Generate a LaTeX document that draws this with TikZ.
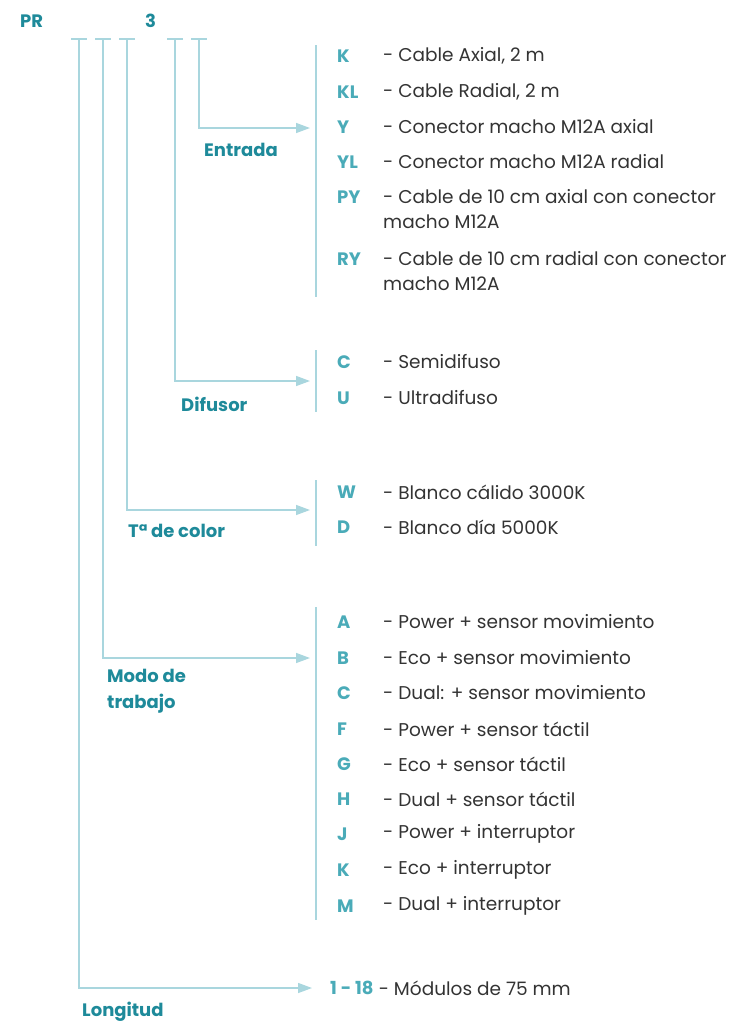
\documentclass[tikz,border=0pt]{standalone}
\usepackage{fontspec}
\setmainfont{Poppins}
\usetikzlibrary{arrows.meta}
\definecolor{teal1}{HTML}{1E8A9A}
\definecolor{teal2}{HTML}{4AABB8}
\definecolor{linec}{HTML}{A9D6DE}
\definecolor{txt}{HTML}{333333}
\tikzset{
  lbl/.style={anchor=west,inner sep=0pt,text=teal1,font=\fontsize{18}{26}\selectfont\bfseries,align=left},
  code/.style={anchor=west,inner sep=0pt,text=teal2,font=\fontsize{18}{25}\selectfont\bfseries},
  desc/.style={anchor=west,inner sep=0pt,text=txt,font=\fontsize{18.5}{25}\selectfont,align=left},
  conn/.style={draw=linec,line width=1.4pt},
  arr/.style={conn,-{Triangle[length=14pt,width=10pt]}},
  bar/.style={draw=linec,line width=1.4pt},
}
\begin{document}
\begin{tikzpicture}[x=1pt,y=-1pt]
\useasboundingbox (0,0) rectangle (731,1023);
% header
\node[lbl] (pr) at (20,21) {PR};
\node[lbl] (three) at (145,21) {3};
% ticks
\foreach \n/\x in {t1/79,t2/103,t3/127,t4/175,t5/199}{
  \coordinate (\n) at (\x,39);
  \draw[conn] (\x-8,39) -- (\x+8,39);
}
% arrow targets
\coordinate (e1) at (310,128);
\coordinate (e2) at (310,381);
\coordinate (e3) at (310,510);
\coordinate (e4) at (310,658);
\coordinate (e5) at (312,988);
\draw[arr] (t5) |- (e1);
\draw[arr] (t4) |- (e2);
\draw[arr] (t3) |- (e3);
\draw[arr] (t2) |- (e4);
\draw[arr] (t1) |- (e5);
% group labels
\node[lbl] (entrada) at (204,150) {Entrada};
\node[lbl] (difusor) at (181,404) {Difusor};
\node[lbl] (tcolor) at (128,531) {Tª de color};
\node[lbl] (modo) at (107,691) {Modo de\\trabajo};
\node[lbl] (long) at (82,1012) {Longitud};
% bars
\draw[bar] (316,45) -- (316,297);
\draw[bar] (316,350) -- (316,412);
\draw[bar] (316,480) -- (316,546);
\draw[bar] (316,607) -- (316,920);
% Entrada
\foreach \c/\d/\y in {K/Cable Axial{,} 2 m/56, KL/Cable Radial{,} 2 m/92, Y/Conector macho M12A axial/127, YL/Conector macho M12A radial/162}{
  \node[code] at (337,\y) {\c};
  \node[desc] at (383,\y) {- \d};
}
\node[code] (py) at (337,197) {PY};
\node[desc] (pyd) at (383,209.5) {- Cable de 10 cm axial con conector\\macho M12A};
\node[code] (ry) at (337,259) {RY};
\node[desc] (ryd) at (383,271.5) {- Cable de 10 cm radial con conector\\macho M12A};
% Difusor
\node[code] (c1) at (337,362) {C};
\node[desc] (c1d) at (383,362) {- Semidifuso};
\node[code] (u1) at (337,398) {U};
\node[desc] (u1d) at (383,398) {- Ultradifuso};
% Color
\node[code] (w1) at (337,492) {W};
\node[desc] (w1d) at (383,492) {- Blanco cálido 3000K};
\node[code] (d1) at (337,527) {D};
\node[desc] (d1d) at (383,527) {- Blanco día 5000K};
% Modo
\foreach \c/\d/\y in {A/Power + sensor movimiento/622, B/Eco + sensor movimiento/658, C/Dual: + sensor movimiento/693, F/Power + sensor táctil/729, G/Eco + sensor táctil/764, H/Dual + sensor táctil/799, J/Power + interruptor/834, K/Eco + interruptor/870, M/Dual + interruptor/906}{
  \node[code] at (337,\y) {\c};
  \node[desc] at (383,\y) {- \d};
}
% Longitud
\node[code] (l1) at (330,988) {1 - 18};
\node[desc] (l1d) at (l1.east) [xshift=5pt] {- Módulos de 75 mm};
\end{tikzpicture}
\end{document}
